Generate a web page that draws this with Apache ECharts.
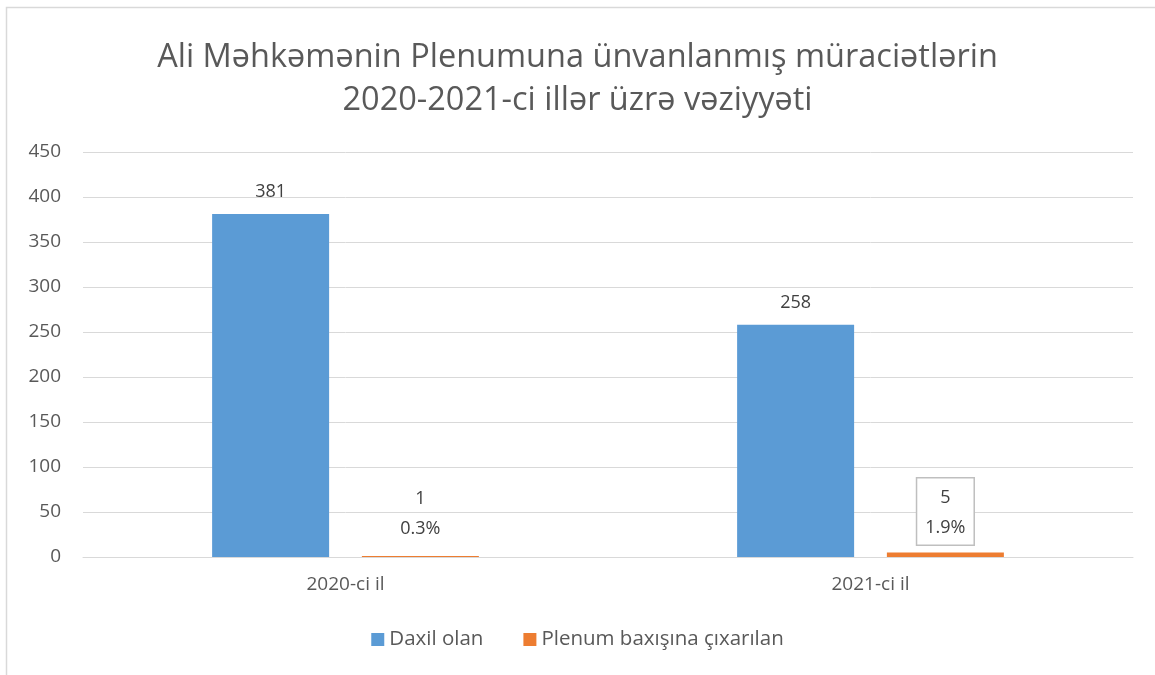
<!DOCTYPE html>
<html>
<head>
<meta charset="utf-8">
<script src="https://cdn.jsdelivr.net/npm/echarts@6/dist/echarts.min.js"></script>
<style>
  html, body { margin: 0; padding: 0; background: #fff; }
  #chart { width: 1155px; height: 675px; }
</style>
</head>
<body>
<div id="chart"></div>
<script>
const years = ['2020-ci il', '2021-ci il'];
const daxil = [381, 258];
const plenum = [1, 5];
const yTicks = [0, 450, 50];

const chart = echarts.init(document.getElementById('chart'));
const font = '"Open Sans", "Noto Sans", sans-serif';

var option = {
    textStyle: { fontFamily: font },
    graphic: [{
        type: 'rect',
        shape: { x: 6.5, y: 7.5, width: 1160, height: 680 },
        style: { fill: 'none', stroke: '#d9d9d9', lineWidth: 1.5 },
        silent: true
    }],
    title: {
        text: 'Ali Məhkəmənin Plenumuna ünvanlanmış müraciətlərin\n2020-2021-ci illər üzrə vəziyyəti',
        left: 'center',
        top: 31,
        textStyle: { fontFamily: font, fontSize: 32.5, fontWeight: 'normal', color: '#595959', lineHeight: 43 }
    },
    legend: {
        bottom: 20,
        left: 'center',
        itemWidth: 13,
        itemHeight: 13,
        itemGap: 40,
        icon: 'rect',
        textStyle: { fontFamily: font, fontSize: 20.5, color: '#595959' },
        data: ['Daxil olan', 'Plenum baxışına çıxarılan']
    },
    grid: { left: 83, right: 22, top: 152, bottom: 118 },
    xAxis: {
        type: 'category',
        data: years,
        axisLine: { lineStyle: { color: '#d9d9d9' } },
        axisTick: { show: false },
        axisLabel: { fontFamily: font, fontSize: 19, color: '#595959', margin: 18 }
    },
    yAxis: {
        type: 'value',
        min: yTicks[0],
        max: yTicks[1],
        interval: yTicks[2],
        axisLine: { show: false },
        axisTick: { show: false },
        splitLine: { lineStyle: { color: '#d9d9d9', width: 1 } },
        axisLabel: { fontFamily: font, fontSize: 19, color: '#595959', margin: 22 }
    },
    series: [
        {
            name: 'Daxil olan',
            type: 'bar',
            data: daxil,
            barWidth: 117,
            barGap: '28%',
            itemStyle: { color: '#5b9bd5' },
            label: {
                show: true,
                position: 'top',
                distance: 13,
                fontFamily: font,
                fontSize: 18,
                color: '#404040'
            }
        },
        {
            name: 'Plenum baxışına çıxarılan',
            type: 'bar',
            barWidth: 117,
            data: plenum.map((v, i) => ({
                value: v,
                label: i === 1
                    ? { borderColor: '#bfbfbf', borderWidth: 1.5, padding: [4, 8, 2, 8], backgroundColor: '#fff', distance: 8 }
                    : { distance: 12 }
            })),
            itemStyle: { color: '#ed7d31' },
            label: {
                show: true,
                position: 'top',
                fontFamily: font,
                fontSize: 18,
                lineHeight: 30,
                color: '#404040',
                formatter: p => p.value + '\n' + (p.value / daxil[p.dataIndex] * 100).toFixed(1) + '%'
            }
        }
    ]
};
chart.setOption(option);
window.addEventListener('resize', function () {
    chart.resize();
});
</script>
</body>
</html>
